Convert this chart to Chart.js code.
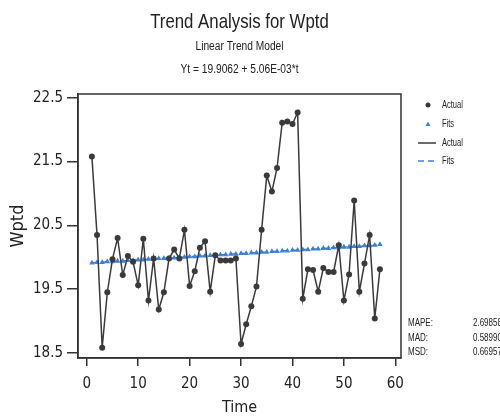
<!DOCTYPE html>
<html>
<head>
<meta charset="utf-8">
<script src="https://cdn.jsdelivr.net/npm/chart.js@4.4.0/dist/chart.umd.min.js"></script>
<style>
  html, body { margin: 0; padding: 0; background: #fff; }
  #wrap { width: 500px; height: 420px; }
</style>
</head>
<body>
<div id="wrap"><canvas id="myChart" width="500" height="420"></canvas></div>
<script>
const FONT = "'Liberation Sans Narrow', 'DejaVu Sans Condensed', 'Liberation Sans', sans-serif";
const TEXT_FONT = "'Liberation Sans', Arial, sans-serif";

// time index 1..57
const time = Array.from({ length: 57 }, (_, i) => i + 1);

const actual = [
  21.58, 20.35, 18.58, 19.45, 19.97, 20.30, 19.72, 20.02, 19.93, 19.56,
  20.29, 19.32, 19.98, 19.18, 19.45, 19.98, 20.12, 19.98, 20.43, 19.55,
  19.78, 20.15, 20.25, 19.46, 20.03, 19.95, 19.95, 19.95, 19.98, 18.64,
  18.95, 19.23, 19.54, 20.43, 21.28, 21.03, 21.40, 22.11, 22.13, 22.09,
  22.27, 19.35, 19.81, 19.80, 19.46, 19.83, 19.77, 19.77, 20.19, 19.32,
  19.73, 20.89, 19.46, 19.90, 20.35, 19.04, 19.81
];

const fits = [
  19.91, 19.92, 19.92, 19.93, 19.93, 19.94, 19.94, 19.95, 19.95, 19.96,
  19.96, 19.97, 19.97, 19.98, 19.98, 19.99, 19.99, 20.00, 20.00, 20.01,
  20.01, 20.02, 20.02, 20.03, 20.03, 20.04, 20.04, 20.05, 20.05, 20.06,
  20.06, 20.07, 20.07, 20.08, 20.08, 20.09, 20.09, 20.10, 20.10, 20.11,
  20.11, 20.12, 20.12, 20.13, 20.13, 20.14, 20.14, 20.15, 20.15, 20.16,
  20.16, 20.17, 20.17, 20.18, 20.18, 20.19, 20.20
];

const xTicks = [0, 10, 20, 30, 40, 50, 60];
const yTicks = [18.5, 19.5, 20.5, 21.5, 22.5];

const statNames = ['MAPE:', 'MAD:', 'MSD:'];
const statValues = ['2.69858', '0.58990', '0.66957'];

const ACTUAL_COL = '#3a3a3a';
const FITS_COL = '#3a7fd8';
const AXIS_COL = '#333333';

const toXY = vals => vals.map((v, i) => ({ x: time[i], y: v }));

// draw text squeezed horizontally (the original uses a narrow face)
function narrow(ctx, text, x, y, sx) {
  ctx.save();
  ctx.translate(x, y);
  ctx.scale(sx, 1);
  ctx.fillText(text, 0, 0);
  ctx.restore();
}

// titles, frame, legend, accuracy measures
const extras = {
  id: 'extras',
  afterDraw(chart) {
    const { ctx, chartArea: a } = chart;
    const cx = (a.left + a.right) / 2;
    ctx.save();
    ctx.strokeStyle = AXIS_COL;
    ctx.lineWidth = 1.5;
    ctx.strokeRect(a.left, a.top, a.right - a.left, a.bottom - a.top);

    ctx.fillStyle = '#222';
    ctx.textAlign = 'center';
    ctx.textBaseline = 'middle';
    ctx.font = '21px ' + TEXT_FONT;
    narrow(ctx, 'Trend Analysis for Wptd', cx, 22, 0.8);
    ctx.font = '12px ' + TEXT_FONT;
    narrow(ctx, 'Linear Trend Model', cx, 47, 0.85);
    narrow(ctx, 'Yt = 19.9062 + 5.06E-03*t', cx, 70, 0.85);

    // legend
    ctx.textAlign = 'left';
    ctx.fillStyle = ACTUAL_COL;
    ctx.beginPath();
    ctx.arc(428, 105, 2.5, 0, Math.PI * 2);
    ctx.fill();
    ctx.fillStyle = FITS_COL;
    ctx.beginPath();
    ctx.moveTo(428, 121.5);
    ctx.lineTo(430.5, 126);
    ctx.lineTo(425.5, 126);
    ctx.closePath();
    ctx.fill();
    ctx.strokeStyle = ACTUAL_COL;
    ctx.lineWidth = 1.5;
    ctx.beginPath();
    ctx.moveTo(418, 143);
    ctx.lineTo(436, 143);
    ctx.stroke();
    ctx.strokeStyle = FITS_COL;
    ctx.setLineDash([6, 4]);
    ctx.beginPath();
    ctx.moveTo(418, 161);
    ctx.lineTo(436, 161);
    ctx.stroke();
    ctx.setLineDash([]);
    ctx.fillStyle = '#222';
    ctx.font = '10px ' + TEXT_FONT;
    narrow(ctx, 'Actual', 442, 105, 0.75);
    narrow(ctx, 'Fits', 442, 124, 0.75);
    narrow(ctx, 'Actual', 442, 143, 0.75);
    narrow(ctx, 'Fits', 442, 161, 0.75);

    // accuracy measures
    [323, 338, 352].forEach((y, i) => {
      narrow(ctx, statNames[i], 408, y, 0.8);
      narrow(ctx, statValues[i], 473, y, 0.8);
    });
    ctx.restore();
  }
};

const ctx = document.getElementById('myChart').getContext('2d');
const trendChart = new Chart(ctx, {
  type: 'line',
  data: {
    datasets: [{
      label: 'Fits',
      data: toXY(fits),
      borderColor: FITS_COL,
      backgroundColor: FITS_COL,
      borderWidth: 1.5,
      borderDash: [6, 4],
      pointStyle: 'triangle',
      pointRadius: 3.2,
      pointBorderWidth: 0,
      order: 2
    }, {
      label: 'Actual',
      data: toXY(actual),
      borderColor: ACTUAL_COL,
      backgroundColor: ACTUAL_COL,
      borderWidth: 1.5,
      pointRadius: 3,
      pointBorderWidth: 0,
      order: 1
    }]
  },
  options: {
    responsive: false,
    animation: false,
    layout: { padding: { top: 94, right: 99, left: 0, bottom: 0 } },
    plugins: {
      legend: { display: false },
      tooltip: { enabled: false }
    },
    scales: {
      x: {
        type: 'linear',
        min: -1.7,
        max: 61.1,
        afterBuildTicks: s => { s.ticks = xTicks.map(v => ({ value: v })); },
        afterFit: s => { s.height = 62; },
        grid: { drawOnChartArea: false, tickLength: 8, color: AXIS_COL, lineWidth: 1.5 },
        border: { color: AXIS_COL, width: 1.5 },
        ticks: { color: '#222', padding: 9, font: { family: FONT, size: 15 }, maxRotation: 0 },
        title: { display: true, text: 'Time', color: '#222', font: { family: FONT, size: 16 }, padding: { top: 0, bottom: 3 } }
      },
      y: {
        min: 18.42,
        max: 22.56,
        afterBuildTicks: s => { s.ticks = yTicks.map(v => ({ value: v })); },
        afterFit: s => { s.width = 78; },
        grid: { drawOnChartArea: false, tickLength: 11, color: AXIS_COL, lineWidth: 1.5 },
        border: { color: AXIS_COL, width: 1.5 },
        ticks: { color: '#222', padding: 4, font: { family: FONT, size: 15 }, callback: v => v.toFixed(1) },
        title: { display: true, text: 'Wptd', color: '#222', font: { family: FONT, size: 18 }, padding: { top: 8, bottom: 0 } }
      }
    }
  },
  plugins: [extras]
});
</script>
</body>
</html>
